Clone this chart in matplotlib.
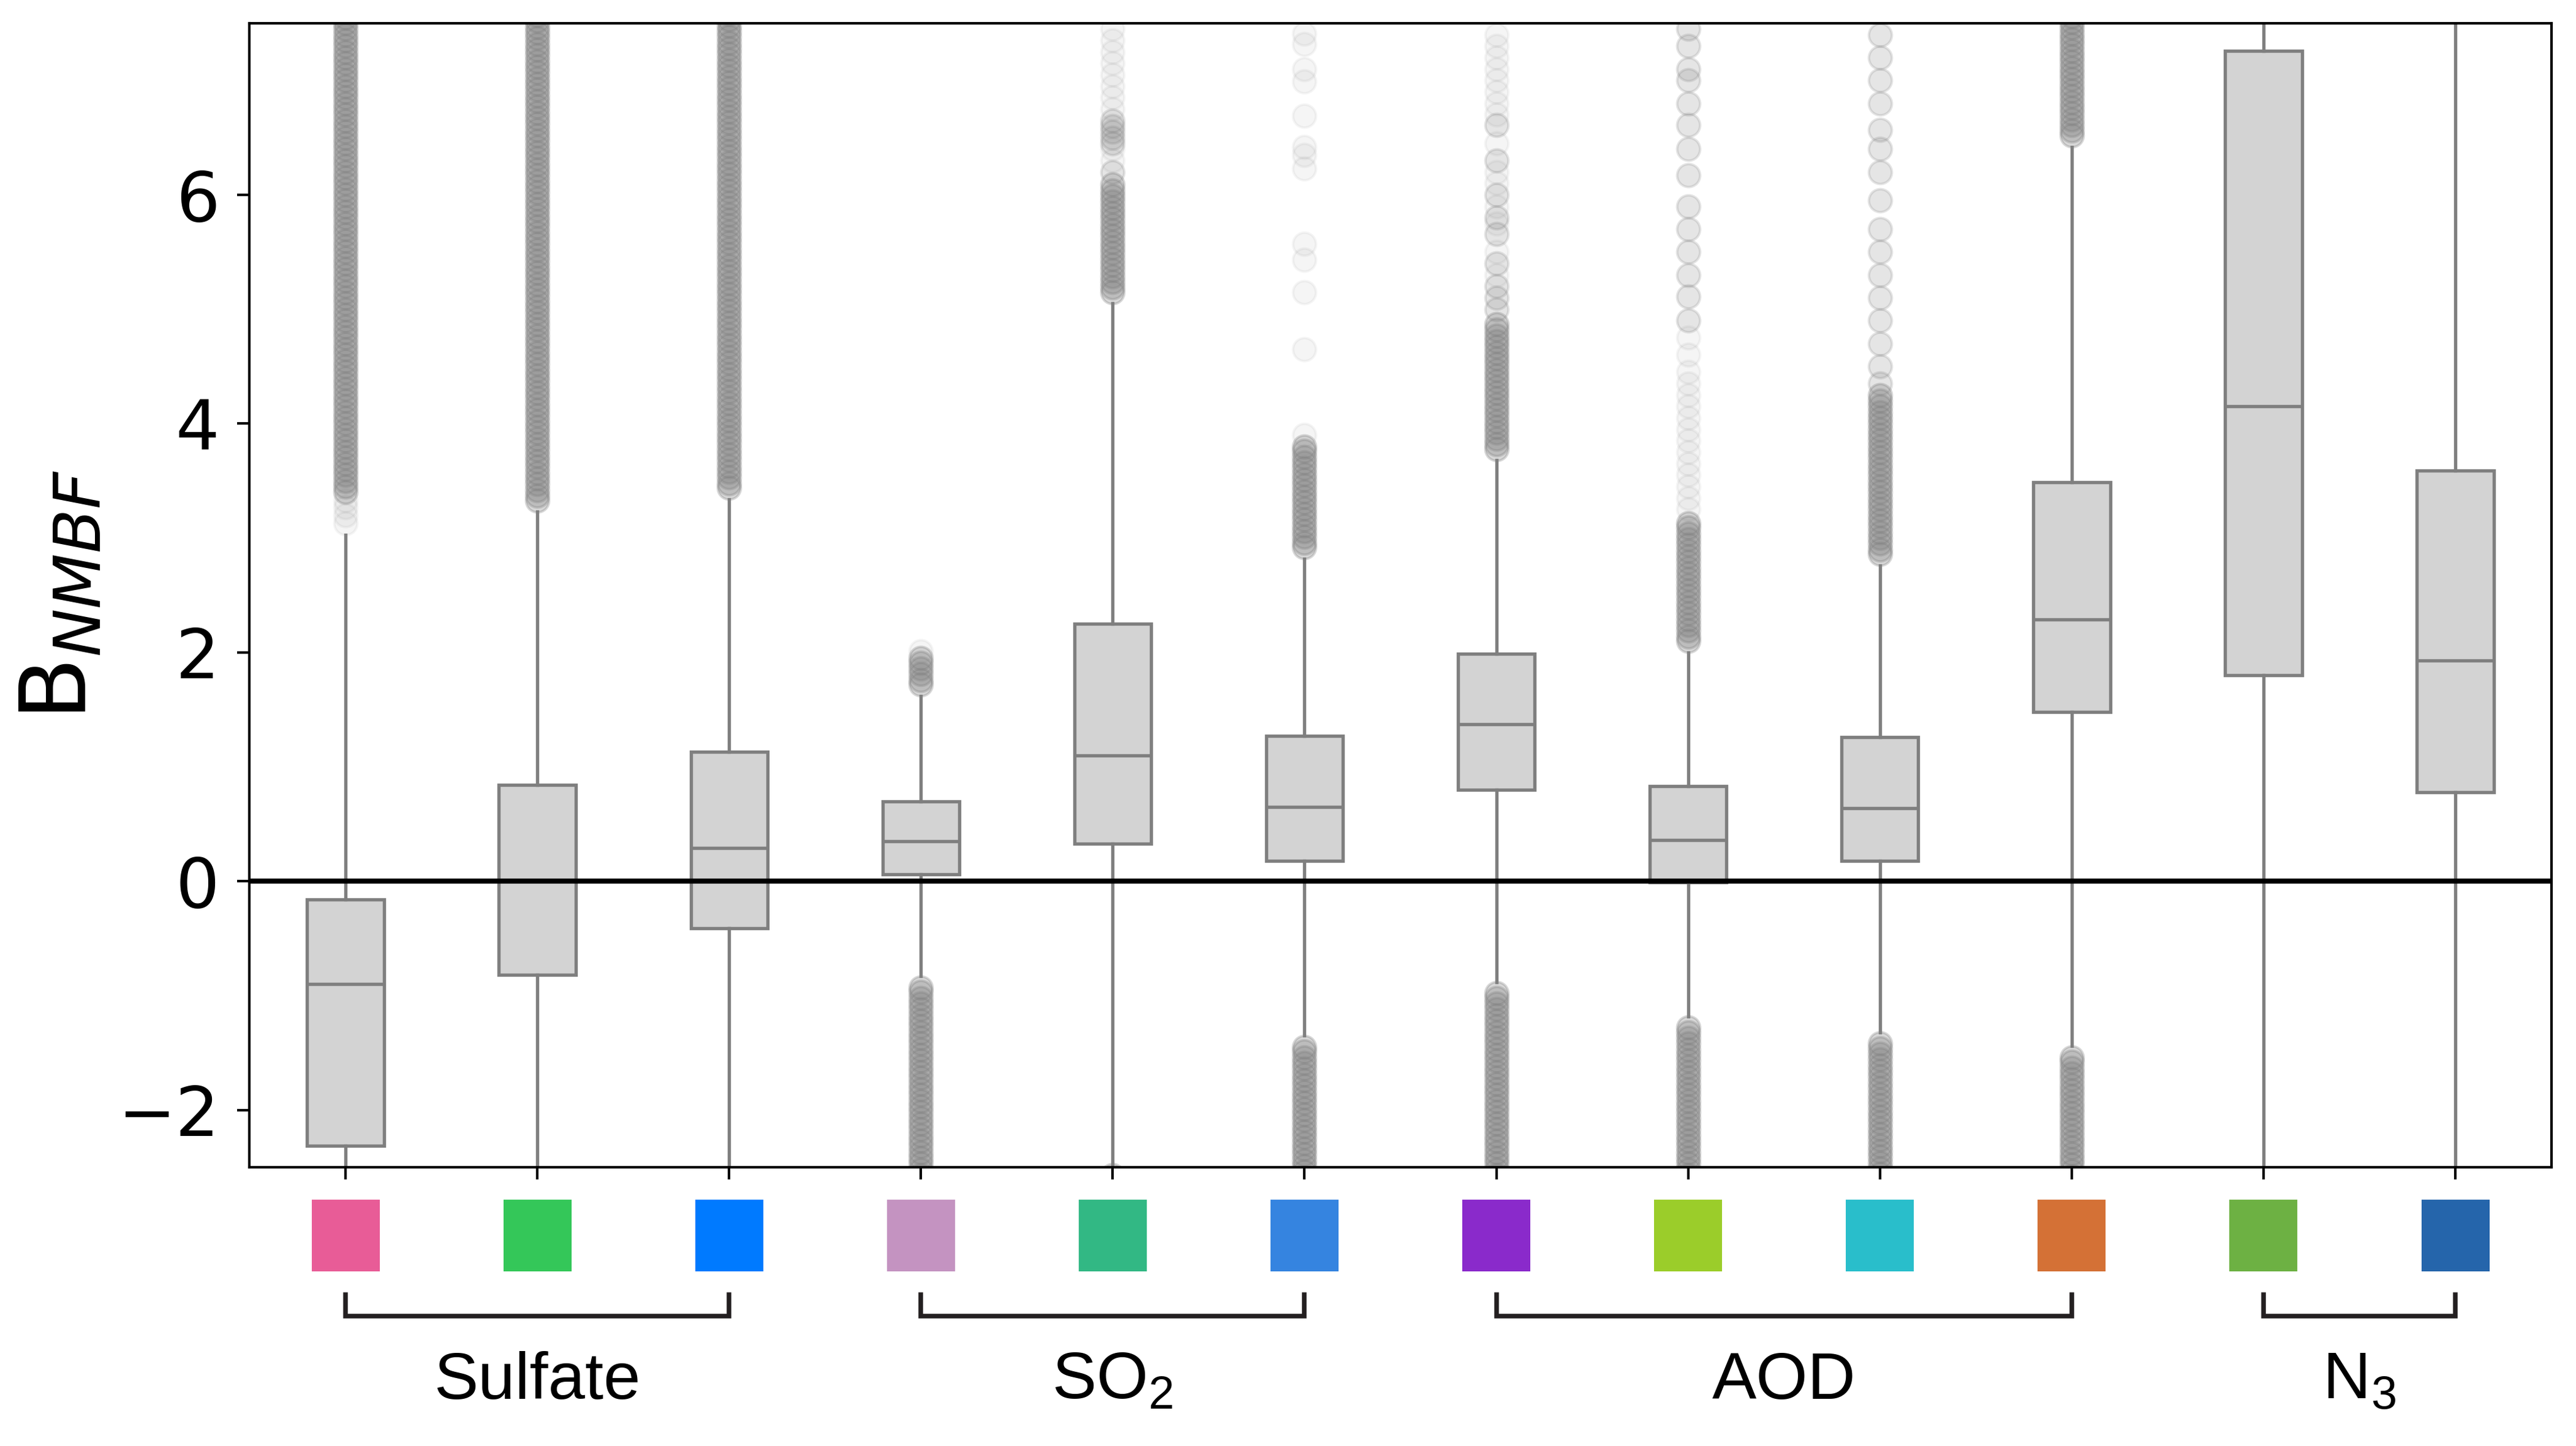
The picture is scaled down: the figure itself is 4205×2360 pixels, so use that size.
import matplotlib.pyplot as plt
from matplotlib.patches import Rectangle
from matplotlib.transforms import blended_transform_factory

# box statistics (B_NMBF), one value per box
q1 = [-2.31, -0.82, -0.41, 0.06, 0.33, 0.18, 0.80, -0.01, 0.18, 1.48, 1.80, 0.78]
med = [-0.90, 0.00, 0.29, 0.35, 1.10, 0.65, 1.37, 0.36, 0.64, 2.29, 4.15, 1.93]
q3 = [-0.16, 0.84, 1.13, 0.70, 2.25, 1.27, 1.99, 0.83, 1.26, 3.49, 7.26, 3.59]
whis_lo = [-3.5, -3.2, -2.7, -0.83, -2.52, -1.35, -0.88, -1.18, -1.32, -1.44, -6.3, -3.4]
whis_hi = [3.03, 3.23, 3.34, 1.62, 5.05, 2.82, 3.68, 2.00, 2.76, 6.42, 15.4, 7.8]

# outliers: dense runs, medium and faint single points
fliers_dense = [
    [3.4, 3.45, 3.5, 3.55, 3.6, 3.65, 3.7, 3.75, 3.8, 3.85, 3.9, 3.95, 4.0, 4.05, 4.1, 4.15, 4.2, 4.25, 4.3,
     4.35, 4.4, 4.45, 4.5, 4.55, 4.6, 4.65, 4.7, 4.75, 4.8, 4.85, 4.9, 4.95, 5.0, 5.05, 5.1, 5.15, 5.2, 5.25,
     5.3, 5.35, 5.4, 5.45, 5.5, 5.55, 5.6, 5.65, 5.7, 5.75, 5.8, 5.85, 5.9, 5.95, 6.0, 6.05, 6.1, 6.15, 6.2,
     6.25, 6.3, 6.35, 6.4, 6.45, 6.5, 6.55, 6.6, 6.65, 6.7, 6.75, 6.8, 6.85, 6.9, 6.95, 7.0, 7.05, 7.1, 7.15,
     7.2, 7.25, 7.3, 7.35, 7.4, 7.45, 7.5, 7.55, 7.6],
    [3.33, 3.37, 3.42, 3.47, 3.52, 3.57, 3.62, 3.67, 3.72, 3.77, 3.82, 3.87, 3.92, 3.97, 4.02, 4.07, 4.12,
     4.17, 4.22, 4.27, 4.32, 4.37, 4.42, 4.47, 4.52, 4.57, 4.62, 4.67, 4.72, 4.77, 4.82, 4.87, 4.92, 4.97,
     5.02, 5.07, 5.12, 5.17, 5.22, 5.27, 5.32, 5.37, 5.42, 5.47, 5.52, 5.57, 5.62, 5.67, 5.72, 5.77, 5.82,
     5.87, 5.92, 5.97, 6.02, 6.07, 6.12, 6.17, 6.22, 6.27, 6.32, 6.37, 6.42, 6.47, 6.52, 6.57, 6.62, 6.67,
     6.72, 6.77, 6.82, 6.87, 6.92, 6.97, 7.02, 7.07, 7.12, 7.17, 7.22, 7.27, 7.32, 7.37, 7.42, 7.47, 7.52, 7.57],
    [3.44, 3.48, 3.53, 3.58, 3.63, 3.68, 3.73, 3.78, 3.83, 3.88, 3.93, 3.98, 4.03, 4.08, 4.13, 4.18, 4.23,
     4.28, 4.33, 4.38, 4.43, 4.48, 4.53, 4.58, 4.63, 4.68, 4.73, 4.78, 4.83, 4.88, 4.93, 4.98, 5.03, 5.08,
     5.13, 5.18, 5.23, 5.28, 5.33, 5.38, 5.43, 5.48, 5.53, 5.58, 5.63, 5.68, 5.73, 5.78, 5.83, 5.88, 5.93,
     5.98, 6.03, 6.08, 6.13, 6.18, 6.23, 6.28, 6.33, 6.38, 6.43, 6.48, 6.53, 6.58, 6.63, 6.68, 6.73, 6.78,
     6.83, 6.88, 6.93, 6.98, 7.03, 7.08, 7.13, 7.18, 7.23, 7.28, 7.33, 7.38, 7.43, 7.48, 7.53, 7.58],
    [1.72, 1.76, 1.81, 1.86, 1.91, 1.95,
     -0.93, -0.97, -1.02, -1.07, -1.12, -1.17, -1.22, -1.27, -1.32, -1.37, -1.42, -1.47, -1.52, -1.57, -1.62,
     -1.67, -1.72, -1.77, -1.82, -1.87, -1.92, -1.97, -2.02, -2.07, -2.12, -2.17, -2.22, -2.27, -2.32, -2.37,
     -2.42, -2.47, -2.52, -2.57, -2.62],
    [5.15, 5.19, 5.24, 5.29, 5.34, 5.39, 5.44, 5.49, 5.54, 5.59, 5.64, 5.69, 5.74, 5.79, 5.84, 5.89, 5.94,
     5.99, 6.04, 6.09, -2.57],
    [2.92, 2.96, 3.01, 3.06, 3.11, 3.16, 3.21, 3.26, 3.31, 3.36, 3.41, 3.46, 3.51, 3.56, 3.61, 3.66, 3.71,
     3.76, 3.8,
     -1.45, -1.49, -1.54, -1.59, -1.64, -1.69, -1.74, -1.79, -1.84, -1.89, -1.94, -1.99, -2.04, -2.09, -2.14,
     -2.19, -2.24, -2.29, -2.34, -2.39, -2.44, -2.49, -2.54, -2.59, -2.64],
    [3.78, 3.82, 3.87, 3.92, 3.97, 4.02, 4.07, 4.12, 4.17, 4.22, 4.27, 4.32, 4.37, 4.42, 4.47, 4.52, 4.57,
     4.62, 4.67, 4.72, 4.77, 4.82, 4.87,
     -0.98, -1.02, -1.07, -1.12, -1.17, -1.22, -1.27, -1.32, -1.37, -1.42, -1.47, -1.52, -1.57, -1.62, -1.67,
     -1.72, -1.77, -1.82, -1.87, -1.92, -1.97, -2.02, -2.07, -2.12, -2.17, -2.22, -2.27, -2.32, -2.37, -2.42,
     -2.47, -2.52, -2.57, -2.62],
    [2.1, 2.14, 2.19, 2.24, 2.29, 2.34, 2.39, 2.44, 2.49, 2.54, 2.59, 2.64, 2.69, 2.74, 2.79, 2.84, 2.89,
     2.94, 2.99, 3.04, 3.09, 3.13,
     -1.28, -1.32, -1.37, -1.42, -1.47, -1.52, -1.57, -1.62, -1.67, -1.72, -1.77, -1.82, -1.87, -1.92, -1.97,
     -2.02, -2.07, -2.12, -2.17, -2.22, -2.27, -2.32, -2.37, -2.42, -2.47, -2.52, -2.57, -2.62],
    [2.86, 2.9, 2.95, 3.0, 3.05, 3.1, 3.15, 3.2, 3.25, 3.3, 3.35, 3.4, 3.45, 3.5, 3.55, 3.6, 3.65, 3.7, 3.75,
     3.8, 3.85, 3.9, 3.95, 4.0, 4.05, 4.1, 4.15, 4.2, 4.25,
     -1.42, -1.46, -1.51, -1.56, -1.61, -1.66, -1.71, -1.76, -1.81, -1.86, -1.91, -1.96, -2.01, -2.06, -2.11,
     -2.16, -2.21, -2.26, -2.31, -2.36, -2.41, -2.46, -2.51, -2.56, -2.61],
    [6.52, 6.56, 6.61, 6.66, 6.71, 6.76, 6.81, 6.86, 6.91, 6.96, 7.01, 7.06, 7.11, 7.16, 7.21, 7.26, 7.31,
     7.36, 7.41, 7.46, 7.51, 7.56, 7.61,
     -1.54, -1.58, -1.63, -1.68, -1.73, -1.78, -1.83, -1.88, -1.93, -1.98, -2.03, -2.08, -2.13, -2.18, -2.23,
     -2.28, -2.33, -2.38, -2.43, -2.48, -2.53, -2.58, -2.63],
    [],
    [],
]
fliers_mid = [
    [], [], [], [],
    [6.2, 6.45, 6.5, 6.55, 6.6, 6.65],
    [],
    [5.0, 5.1, 5.2, 5.4, 5.66, 5.8, 6.0, 6.3, 6.61],
    [4.9, 5.11, 5.3, 5.5, 5.7, 5.9, 6.17, 6.4, 6.61, 6.8, 7.0, 7.1, 7.3, 7.45],
    [4.35, 4.5, 4.7, 4.9, 5.1, 5.3, 5.5, 5.7, 5.95, 6.2, 6.4, 6.57, 6.8, 7.0, 7.2, 7.4],
    [], [], [],
]
fliers_light = [
    [3.13, 3.2, 3.27, 3.33],
    [], [],
    [2.01],
    [6.3, 6.4, 6.75, 6.85, 6.95, 7.05, 7.15, 7.25, 7.35, 7.45],
    [3.9, 4.65, 5.15, 5.43, 5.57, 6.23, 6.35, 6.42, 6.69, 6.99, 7.10, 7.32, 7.41],
    [5.3, 5.5, 5.75, 5.9, 6.1, 6.2, 6.45, 6.7, 6.8, 6.9, 7.0, 7.1, 7.2, 7.3, 7.4],
    [3.25, 3.35, 3.45, 3.55, 3.65, 3.75, 3.85, 3.95, 4.05, 4.15, 4.25, 4.35, 4.45, 4.6, 4.75],
    [], [], [], [],
]

swatch_colors = ['#E85C97', '#34C759', '#007AFF', '#C493C1', '#32B884', '#3584E0',
                 '#8A2ACB', '#9BCD2A', '#29BECB', '#D47136', '#6DB143', '#2565AB']
groups = ['Sulfate', 'SO$_2$', 'AOD', 'N$_3$']
group_first = [0, 3, 6, 10]
group_last = [2, 5, 9, 11]

plt.rcParams['mathtext.fontset'] = 'custom'
plt.rcParams['mathtext.rm'] = 'Liberation Sans'
plt.rcParams['mathtext.it'] = 'Liberation Sans:italic'

fig = plt.figure(figsize=(4205 / 300, 2360 / 300), dpi=300)
ax = fig.add_axes([0.0969, 0.1928, 0.8935, 0.7911])

line_c = '#7f7f7f'
stats = []
for i in range(len(med)):
    stats.append(dict(med=med[i], q1=q1[i], q3=q3[i], whislo=whis_lo[i], whishi=whis_hi[i], fliers=[]))
ax.bxp(stats, positions=list(range(len(med))), widths=0.4, patch_artist=True,
       showfliers=False, showcaps=False,
       boxprops=dict(facecolor='lightgrey', edgecolor=line_c, linewidth=1.3),
       whiskerprops=dict(color=line_c, linewidth=1.3),
       medianprops=dict(color=line_c, linewidth=1.3))

for i in range(len(med)):
    for vals, a in ((fliers_dense[i], 0.3), (fliers_mid[i], 0.2), (fliers_light[i], 0.08)):
        if vals:
            ax.plot([i] * len(vals), vals, 'o', ms=9, mfc='grey', mec='grey', mew=1,
                    alpha=a, zorder=1)

ax.axhline(0, color='black', lw=2, zorder=5)

ax.set_xlim(-0.5, 11.5)
ax.set_ylim(-2.5, 7.5)
ax.set_yticks([-2, 0, 2, 4, 6])
ax.set_xticks(range(len(med)))
ax.set_xticklabels([])
ax.tick_params(labelsize=27, length=4.8, width=1, pad=7)
for s in ax.spines.values():
    s.set_linewidth(1)

ax.set_ylabel(r'$\mathrm{B}_{NMBF}$', fontsize=36, math_fontfamily='dejavusans')
ax.yaxis.set_label_coords(-0.0627, 0.5)

# coloured keys, brackets and group names under the axis
trans = blended_transform_factory(ax.transData, ax.transAxes)
for i, c in enumerate(swatch_colors):
    ax.add_patch(Rectangle((i - 0.1773, -0.0911), 0.3546, 0.0627, transform=trans,
                           facecolor=c, lw=0, clip_on=False))

for name, a, b in zip(groups, group_first, group_last):
    ax.plot([a, a, b, b], [-0.1114, -0.1302, -0.1302, -0.1114], transform=trans,
            color='#231F20', lw=1.8, clip_on=False, solid_joinstyle='miter')
    ax.text((a + b) / 2, -0.2025, name, transform=trans, ha='center', va='baseline',
            fontsize=26, family='Liberation Sans', math_fontfamily='custom')

fig.savefig('out.png', dpi=300)
